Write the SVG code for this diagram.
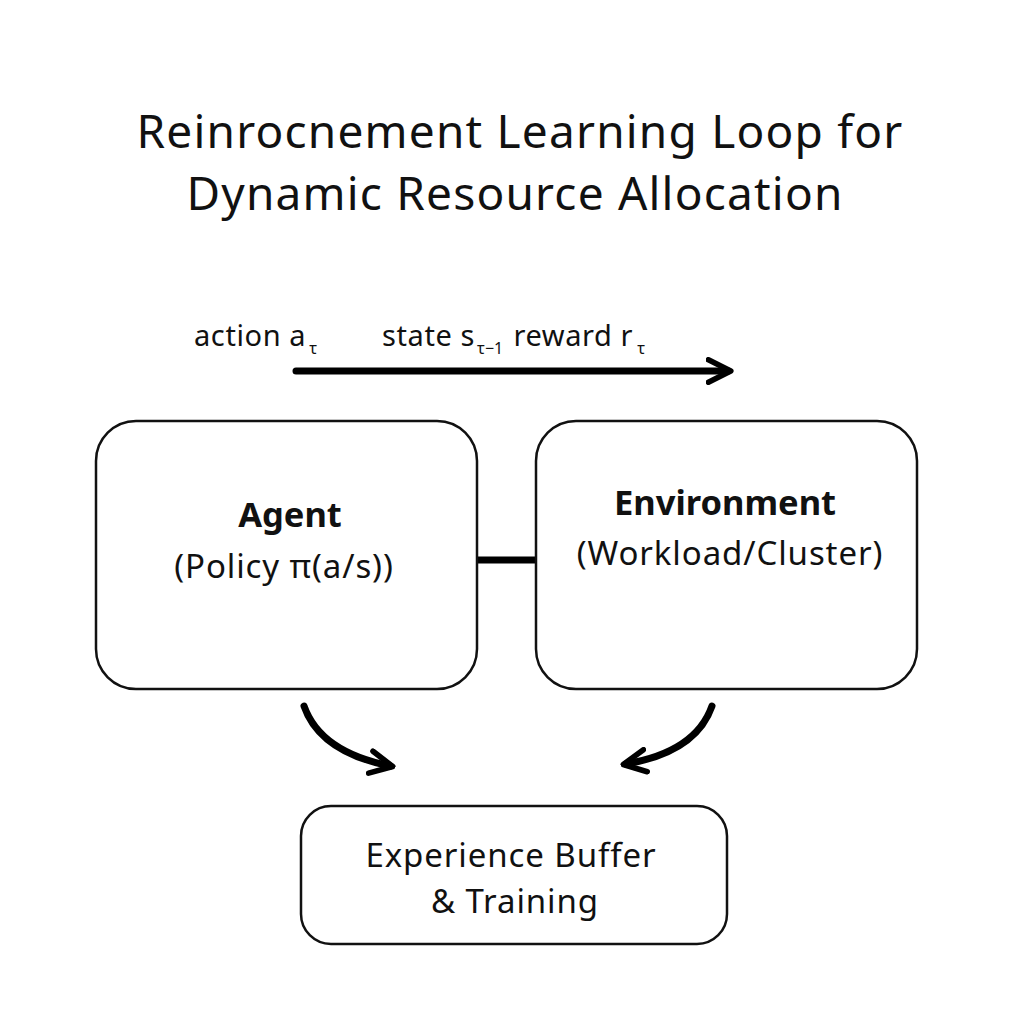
<svg xmlns="http://www.w3.org/2000/svg" width="1024" height="1024" viewBox="0 0 1024 1024">
<style>
text{font-family:"Noto Sans","Open Sans","Liberation Sans",sans-serif;fill:#111;}
.title{font-size:46px;text-anchor:middle;letter-spacing:1.2px;}
.lbl{font-size:29px;letter-spacing:0.6px;}
.sub{font-size:16px;letter-spacing:0;}
.box{fill:#fff;stroke:#111;stroke-width:2.5;}
.h{font-size:34.5px;font-weight:bold;text-anchor:middle;}
.t{font-size:33px;text-anchor:middle;letter-spacing:0.9px;}
.conn{fill:none;stroke:#000;stroke-linecap:round;}
</style>
<defs>
<marker id="ah" viewBox="0 0 10 10" refX="8" refY="5" markerWidth="4" markerHeight="4" orient="auto" markerUnits="strokeWidth">
<path d="M1,1 L9,5 L1,9" fill="none" stroke="#000" stroke-width="2" stroke-linecap="round" stroke-linejoin="round"/>
</marker>
</defs>
<rect width="1024" height="1024" fill="#fff"/>
<g id="title">
<text class="title" x="520" y="148">Reinrocnement Learning Loop for</text>
<text class="title" x="515" y="210">Dynamic Resource Allocation</text>
</g>
<g id="labels">
<text class="lbl" x="194" y="346">action a<tspan class="sub" dx="3" dy="8">τ</tspan></text>
<text class="lbl" x="382" y="346">state s<tspan class="sub" dx="2" dy="8">τ−1</tspan><tspan dx="2" dy="-8"> reward r</tspan><tspan class="sub" dx="4" dy="8">τ</tspan></text>
</g>
<g id="connectors">
<line class="conn" x1="296" y1="371" x2="728" y2="371" stroke-width="7" marker-end="url(#ah)"/>
<line x1="477" y1="560" x2="536" y2="560" stroke="#000" stroke-width="7"/>
<path class="conn" d="M304,706 Q320,752 390,766" stroke-width="7" marker-end="url(#ah)"/>
<path class="conn" d="M712,706 Q696,752 626,764" stroke-width="7" marker-end="url(#ah)"/>
</g>
<g id="agent">
<rect class="box" x="96" y="421" width="381" height="268" rx="40"/>
<text class="h" x="290" y="527">Agent</text>
<text class="t" x="284" y="578">(Policy π(a/s))</text>
</g>
<g id="environment">
<rect class="box" x="536" y="421" width="381" height="268" rx="40"/>
<text class="h" x="725" y="515">Environment</text>
<text class="t" x="730" y="565">(Workload/Cluster)</text>
</g>
<g id="buffer">
<rect class="box" x="301" y="806" width="426" height="138" rx="30"/>
<text class="t" x="511" y="867">Experience Buffer</text>
<text class="t" x="515" y="913">&amp; Training</text>
</g>
</svg>
